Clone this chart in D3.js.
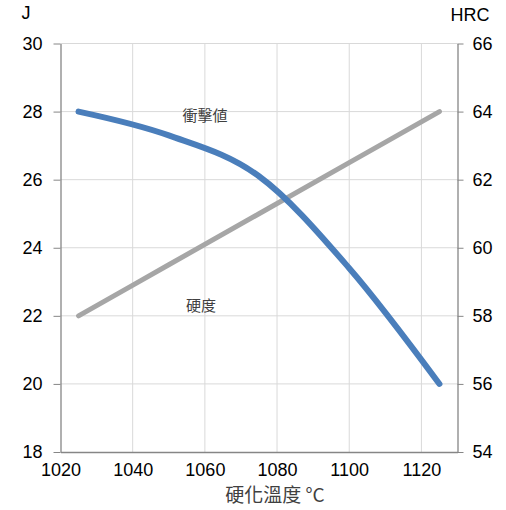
<!DOCTYPE html>
<html>
<head>
<meta charset="utf-8">
<script src="https://cdn.jsdelivr.net/npm/d3@7"></script>
<style>
  body { margin: 0; background: #fff; }
  svg text { font-family: "Liberation Sans", Arial, sans-serif; }
  .cjk { font-family: "Noto Sans CJK TC", "Noto Sans CJK JP", sans-serif; }
</style>
</head>
<body>
<div id="chart"></div>
<script>
// hardening temperature (°C)
const temps = [1025, 1050, 1075, 1100, 1125];
// impact value (J), left axis
const impact = [28, 27.3, 26.1, 23.4, 20];
// hardness (HRC), right axis
const hardness = [58, 59.5, 61, 62.5, 64];

const xTicks = [1020, 1040, 1060, 1080, 1100, 1120];
const leftTicks = [18, 20, 22, 24, 26, 28, 30];
const rightTicks = [54, 56, 58, 60, 62, 64, 66];

const width = 506, height = 510;
const margin = { top: 43.5, right: 48.5, bottom: 58, left: 60.5 };

const svg = d3.select('#chart').append('svg')
  .attr('width', width)
  .attr('height', height);

const x = d3.scaleLinear()
  .domain([1020, 1130])
  .range([margin.left, width - margin.right]);

const yL = d3.scaleLinear()
  .domain([18, 30])
  .range([height - margin.bottom, margin.top]);

const yR = d3.scaleLinear()
  .domain([54, 66])
  .range([height - margin.bottom, margin.top]);

// gridlines
svg.append('g')
  .selectAll('line')
  .data(xTicks.slice(1))
  .enter().append('line')
  .attr('x1', d => x(d)).attr('x2', d => x(d))
  .attr('y1', yL(30)).attr('y2', yL(18))
  .attr('stroke', '#d9d9d9');

svg.append('g')
  .selectAll('line')
  .data(leftTicks.slice(1))
  .enter().append('line')
  .attr('x1', x(1020)).attr('x2', x(1130))
  .attr('y1', d => yL(d)).attr('y2', d => yL(d))
  .attr('stroke', '#d9d9d9');

// axes
const axisColor = '#868686';

const left = svg.append('g')
  .attr('transform', 'translate(' + x(1020) + ',0)')
  .call(d3.axisLeft(yL).tickValues(leftTicks).tickSize(7).tickSizeOuter(0).tickPadding(11));

const right = svg.append('g')
  .attr('transform', 'translate(' + x(1130) + ',0)')
  .call(d3.axisRight(yR).tickValues(rightTicks).tickSize(6).tickSizeOuter(0).tickPadding(9));

const bottom = svg.append('g')
  .attr('transform', 'translate(0,' + yL(18) + ')')
  .call(d3.axisBottom(x).tickValues(xTicks).tickFormat(d3.format('d'))
    .tickSize(0).tickSizeOuter(0).tickPadding(11));

[left, right, bottom].forEach(g => {
  g.select('.domain').attr('stroke', axisColor).attr('stroke-width', 1.3);
  g.selectAll('.tick line').attr('stroke', axisColor);
  g.selectAll('.tick text')
    .attr('fill', '#000')
    .style('font-size', '18px')
    .style('font-family', '"Liberation Sans", Arial, sans-serif');
});

// series
const line = d3.line().curve(d3.curveCardinal.tension(0));

svg.append('path')
  .datum(temps.map((t, i) => [x(t), yR(hardness[i])]))
  .attr('d', line)
  .attr('fill', 'none')
  .attr('stroke', '#a6a6a6')
  .attr('stroke-width', 5)
  .attr('stroke-linecap', 'round');

svg.append('path')
  .datum(temps.map((t, i) => [x(t), yL(impact[i])]))
  .attr('d', line)
  .attr('fill', 'none')
  .attr('stroke', '#4a7ebb')
  .attr('stroke-width', 6)
  .attr('stroke-linecap', 'round');

// labels
svg.append('text')
  .attr('class', 'cjk')
  .attr('x', 205).attr('y', 121)
  .attr('text-anchor', 'middle')
  .attr('fill', '#404040')
  .style('font-size', '15px')
  .text('衝擊値');

svg.append('text')
  .attr('class', 'cjk')
  .attr('x', 201).attr('y', 311)
  .attr('text-anchor', 'middle')
  .attr('fill', '#404040')
  .style('font-size', '15px')
  .text('硬度');

svg.append('text')
  .attr('x', 26).attr('y', 19)
  .attr('text-anchor', 'middle')
  .style('font-size', '18px')
  .text('J');

svg.append('text')
  .attr('x', 470).attr('y', 21)
  .attr('text-anchor', 'middle')
  .style('font-size', '18px')
  .text('HRC');

svg.append('text')
  .attr('class', 'cjk')
  .attr('x', 275).attr('y', 502)
  .attr('text-anchor', 'middle')
  .attr('fill', '#404040')
  .style('font-size', '19px')
  .text('硬化溫度 °C');
</script>
</body>
</html>
